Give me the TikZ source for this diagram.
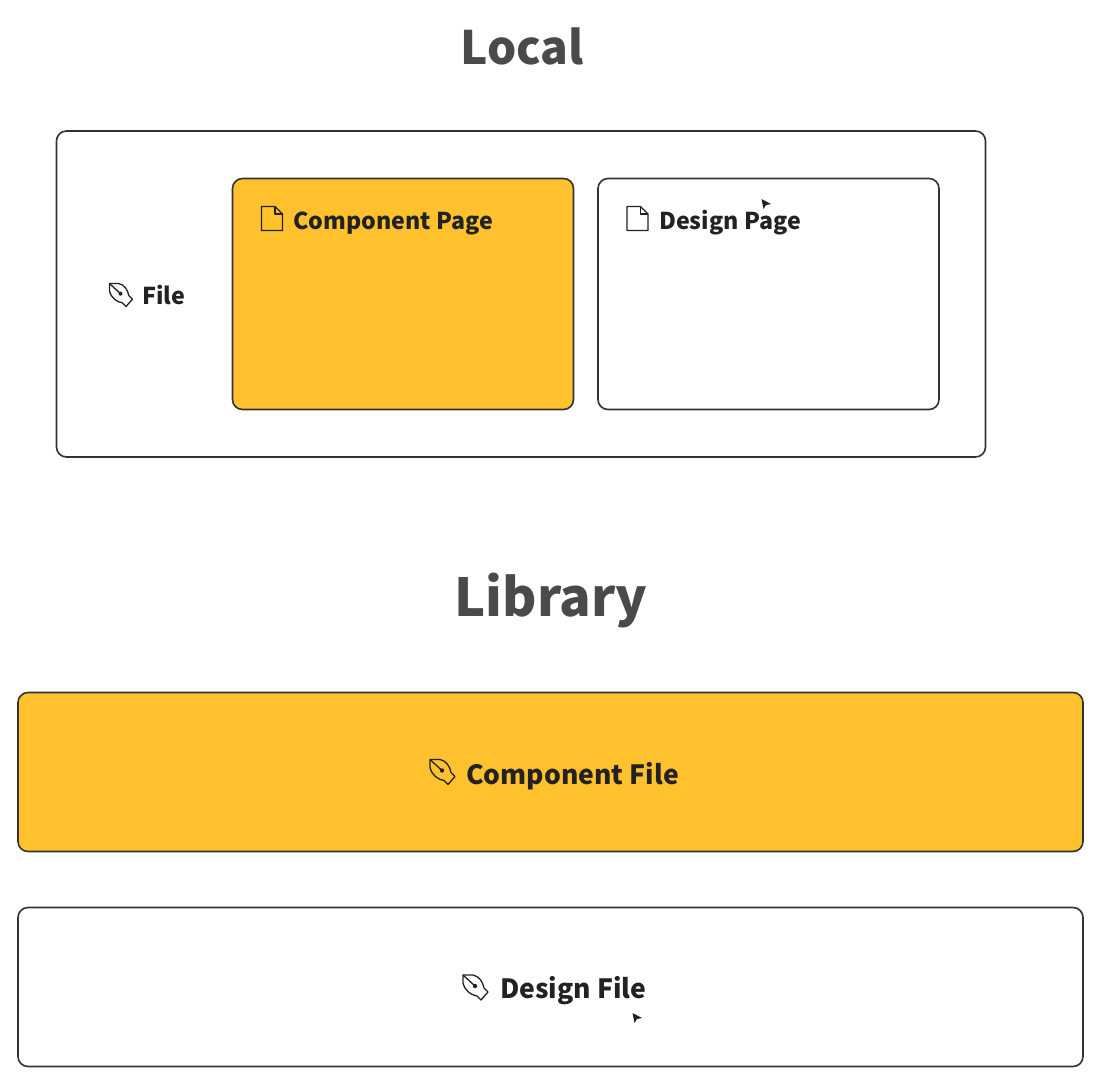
\documentclass[tikz,border=0pt]{standalone}
\usepackage{fontspec}
\newfontfamily\lab{Noto Sans CJK SC}
\definecolor{amber}{HTML}{FFC22E}
\definecolor{edge}{HTML}{333333}
\definecolor{ink}{HTML}{222222}
\definecolor{head}{HTML}{4A4A4A}
\tikzset{
  panel/.style={draw=edge,line width=1.6pt,rounded corners=10pt,fill=white},
  amberpanel/.style={panel,fill=amber},
  lbl/.style={font=\lab\bfseries\fontsize{23.2}{28}\selectfont,text=ink,inner sep=0pt,anchor=base west},
  lblbig/.style={font=\lab\bfseries\fontsize{26.5}{32}\selectfont,text=ink,inner sep=0pt,anchor=base west},
  heading/.style={font=\lab\bfseries\fontsize{46}{56}\selectfont,text=head,inner sep=0pt,anchor=base},
  headbig/.style={font=\lab\bfseries\fontsize{52.4}{62}\selectfont,text=head,inner sep=0pt,anchor=base},
  iconline/.style={draw=ink,line width=1.3pt,line join=round,fill=none},
  cursor/.style={fill=ink,draw=none},
  penicon/.pic={
    \draw[iconline] (-12,-13) -- (-2,-13) .. controls (4,-12) and (8,-6) .. (9,0) -- (13,4) -- (6,12) -- (2,8) .. controls (-4,7) and (-10,3) .. (-12,-5) -- cycle;
    \draw[iconline] (-12,-13) -- (0,-2);
    \fill[ink] (0,-2) circle (2.2);
  },
  pageicon/.pic={
    \draw[iconline] (-10.5,-12) -- (3,-12) -- (10.5,-4.5) -- (10.5,12) -- (-10.5,12) -- cycle;
    \draw[iconline] (3,-12) -- (3,-4.5) -- (10.5,-4.5);
  },
  ptrpic/.pic={
    \fill[cursor] (-4.5,-5) -- (5,0) -- (0,1) -- (-2.5,5) -- cycle;
  }
}
\begin{document}
\begin{tikzpicture}[x=1pt,y=-1pt]
\useasboundingbox (0,0) rectangle (1103,1092);
\fill[white] (0,0) rectangle (1103,1092);
\node[heading] (local) at (522,64) {Local};
\node[headbig] (library) at (551,616) {Library};
\node[panel,minimum width=929pt,minimum height=326pt,inner sep=0pt] (file) at (521,294) {};
\node[amberpanel,minimum width=341pt,minimum height=231pt,inner sep=0pt] (comp) at (403,294) {};
\node[panel,minimum width=341pt,minimum height=231pt,inner sep=0pt] (des) at (768.5,294) {};
\node[amberpanel,minimum width=1065pt,minimum height=159pt,inner sep=0pt] (compf) at (550.5,772) {};
\node[panel,minimum width=1065pt,minimum height=159pt,inner sep=0pt] (desf) at (550.5,987) {};
\pic[scale=.92] at (120.5,295.5) {penicon};
\node[lbl] (filel) at (142,304) {File};
\pic at (272,218.5) {pageicon};
\node[lbl] (compl) at (293,229) {Component Page};
\pic at (637.5,218.5) {pageicon};
\node[lbl] (desl) at (659,229) {Design Page};
\pic at (442,772.5) {penicon};
\node[lbl,lblbig] (compfl) at (466,784) {Component File};
\pic at (475,988) {penicon};
\node[lbl,lblbig] (desfl) at (500,998) {Design File};
\pic at (766,204) {ptrpic};
\pic at (637,1018) {ptrpic};
\end{tikzpicture}
\end{document}
